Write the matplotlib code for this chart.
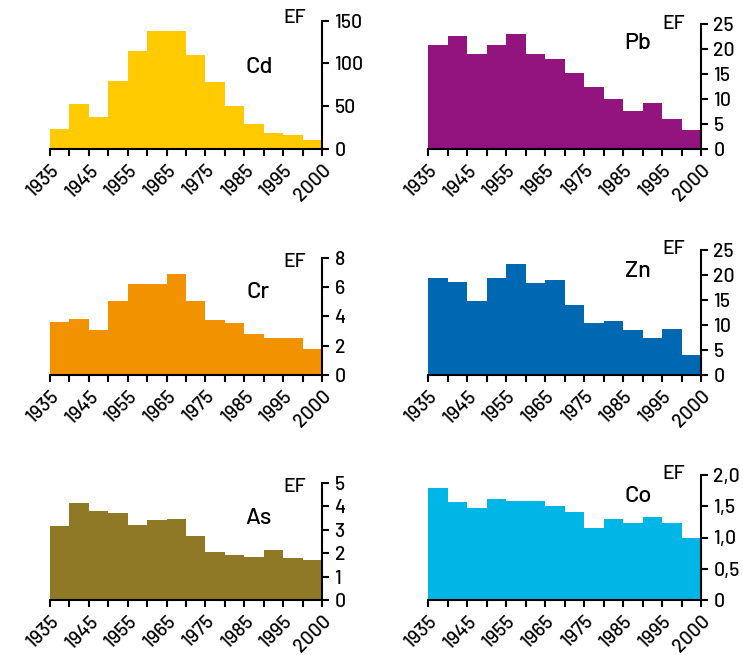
import numpy as np
import matplotlib
matplotlib.use("Agg")
import matplotlib.pyplot as plt
from matplotlib import font_manager

names = {f.name for f in font_manager.fontManager.ttflist}
candidates = ['Barlow', 'D-DIN', 'Barlow Semi Condensed', 'Roboto Condensed', 'DejaVu Sans']
fam = next(c for c in candidates if c in names)
plt.rcParams['font.family'] = [fam, 'DejaVu Sans']
plt.rcParams['font.weight'] = 'medium'

# ---- data ----
x_tick_labels = ['1935', '', '1945', '', '1955', '', '1965', '', '1975', '', '1985', '', '1995', '', '2000']

cd = [23, 53, 37, 80, 114, 138, 138, 110, 78, 50, 29, 18.5, 16, 10.5]
pb = [20.9, 22.7, 19.0, 20.9, 23.0, 19.0, 18.0, 15.2, 12.4, 10.0, 7.6, 9.2, 6.0, 3.9]
cr = [3.64, 3.82, 3.05, 5.05, 6.18, 6.18, 6.86, 5.05, 3.73, 3.55, 2.8, 2.52, 2.52, 1.77]
zn = [19.5, 18.6, 14.9, 19.4, 22.2, 18.5, 19.1, 14.1, 10.3, 10.7, 8.9, 7.3, 9.1, 3.9]
as_ = [3.17, 4.15, 3.79, 3.69, 3.18, 3.39, 3.44, 2.73, 2.06, 1.92, 1.85, 2.13, 1.78, 1.70]
co = [1.80, 1.57, 1.47, 1.62, 1.58, 1.58, 1.51, 1.41, 1.16, 1.29, 1.23, 1.33, 1.23, 1.00]

cd_ticks = [0, 50, 100, 150]
pb_ticks = [0, 5, 10, 15, 20, 25]
cr_ticks = [0, 2, 4, 6, 8]
zn_ticks = [0, 5, 10, 15, 20, 25]
as_ticks = [0, 1, 2, 3, 4, 5]
co_ticks = [0, 0.5, 1.0, 1.5, 2.0]
co_tick_labels = ['0', '0,5', '1,0', '1,5', '2,0']

W, H = 743, 655
fig = plt.figure(figsize=(W / 100, H / 100), dpi=100)

def px_axes(x0, x1, ytop, ybot):
    return fig.add_axes([x0 / W, 1 - ybot / H, (x1 - x0) / W, (ybot - ytop) / H])

panels = [
    ('Cd', cd, cd_ticks, None, '#FFCB00', (50, 322, 20.7, 149), (0.77, 0.64), (306, 18.3)),
    ('Pb', pb, pb_ticks, None, '#93137F', (428, 701, 24.3, 149), (0.77, 0.85), (685, 24)),
    ('Cr', cr, cr_ticks, None, '#F39200', (50, 322, 257.7, 375), (0.765, 0.71), (306, 261.7)),
    ('Zn', zn, zn_ticks, None, '#0068B3', (428, 701, 250, 375), (0.77, 0.83), (685, 249)),
    ('As', as_, as_ticks, None, '#8F7926', (50, 322, 482.7, 600), (0.765, 0.70), (306, 486.7)),
    ('Co', co, co_ticks, co_tick_labels, '#00B6E6', (428, 701, 475, 600), (0.77, 0.83), (685, 474)),
]

edges = np.arange(len(cd) + 1)
for name, vals, yt, ytl, color, box, lpos, efpos in panels:
    ax = px_axes(*box)
    ax.stairs(vals, edges, fill=True, color=color, linewidth=0)
    ax.set_xlim(0, len(vals))
    ax.set_ylim(0, yt[-1])
    ax.spines['left'].set_visible(False)
    ax.spines['top'].set_visible(False)
    ax.spines['right'].set_linewidth(1.5)
    ax.spines['bottom'].set_linewidth(1.5)
    ax.yaxis.tick_right()
    ax.set_yticks(yt)
    if ytl is not None:
        ax.set_yticklabels(ytl)
    ax.set_xticks(edges)
    ax.set_xticklabels(x_tick_labels, rotation=45, ha='right', rotation_mode='anchor')
    ax.tick_params(axis='y', direction='out', length=5, width=1.5, pad=4, labelsize=14)
    ax.tick_params(axis='x', direction='out', length=5, width=1.5, pad=4, labelsize=14)
    ax.patch.set_alpha(0)
    ax.text(lpos[0], lpos[1], name, transform=ax.transAxes, ha='center', va='center', fontsize=17)
    fig.text(efpos[0] / W, 1 - efpos[1] / H, 'EF', ha='right', va='center', fontsize=14)

fig.savefig('out.png', dpi=100)
